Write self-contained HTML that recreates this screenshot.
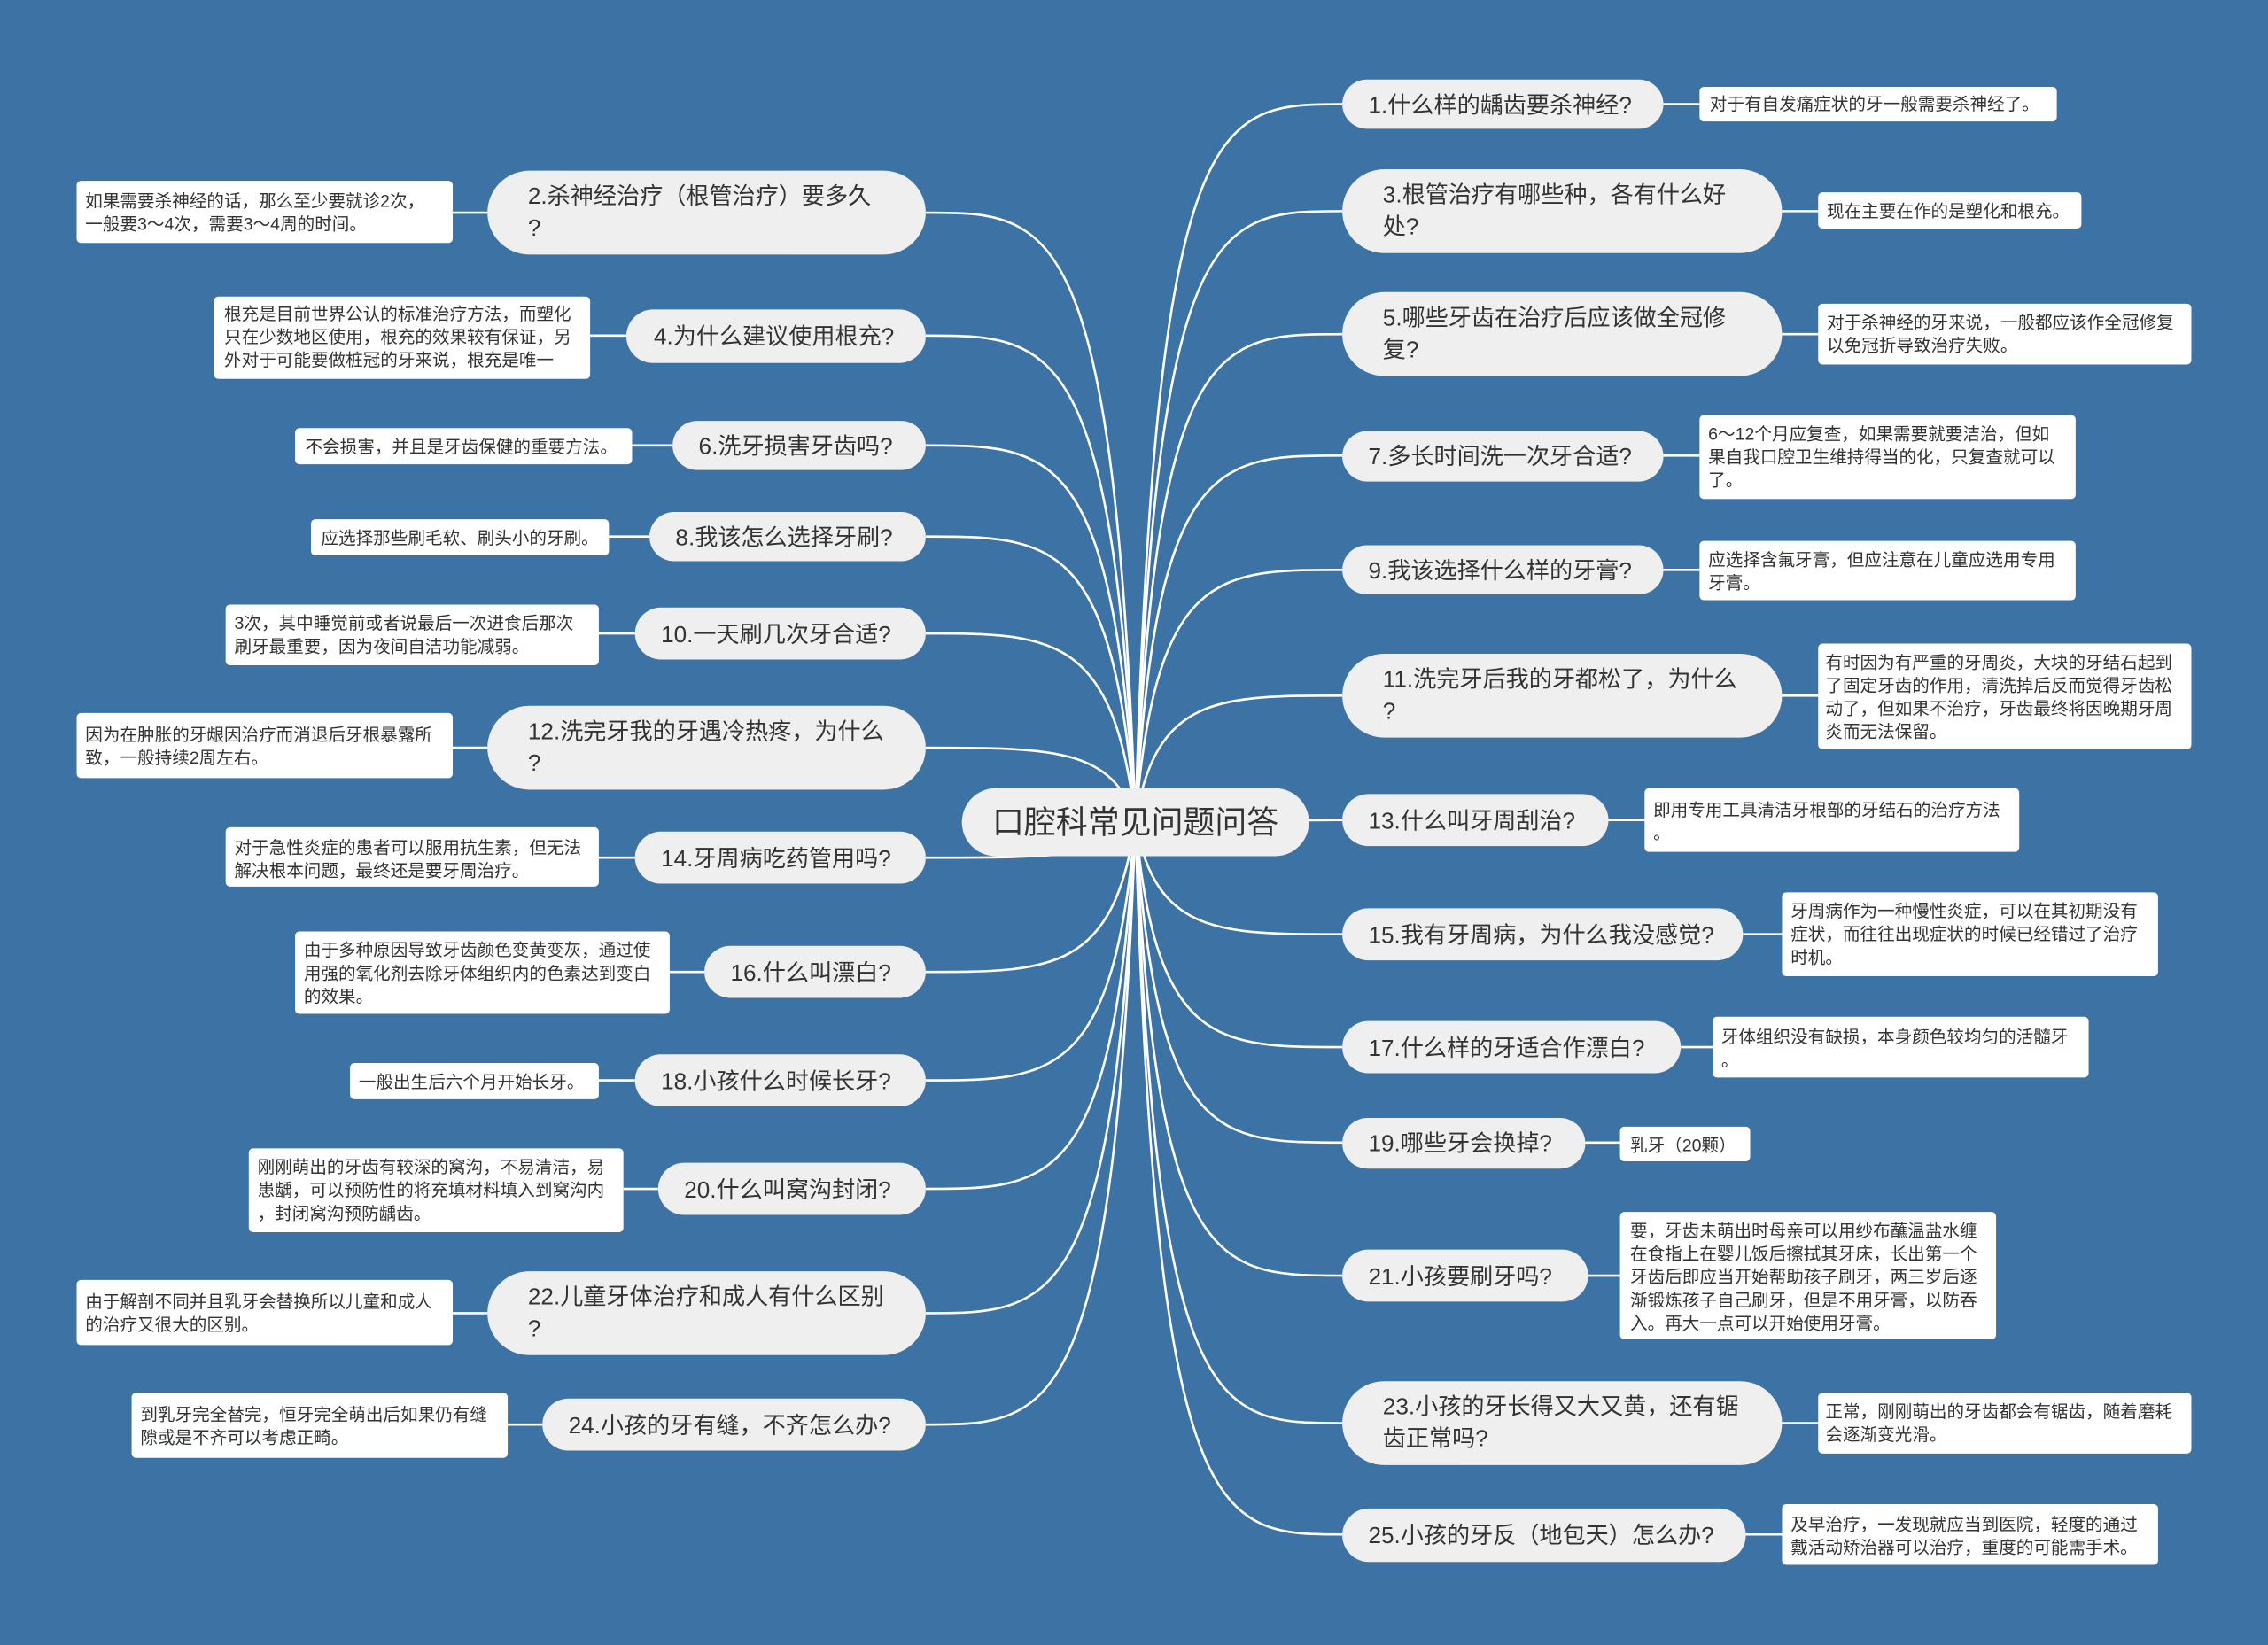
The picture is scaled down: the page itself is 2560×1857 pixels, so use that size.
<!DOCTYPE html>
<html><head><meta charset="utf-8"><style>
html,body{margin:0;padding:0;background:#3d72a4;}
svg{display:block;}
text{font-family:"Liberation Sans","Noto Sans CJK SC",sans-serif;fill:#333;}
.q{font-size:16px;}
.l{font-size:12px;}
.qb{fill:#efefef;}
.lb{fill:#fff;}
.c{fill:none;stroke:#fff;stroke-width:1.6;}
</style></head><body>
<svg width="2560" height="1857" viewBox="0 0 1568 1137.4" xmlns="http://www.w3.org/2000/svg">
<rect x="0" y="0" width="1568" height="1138" fill="#3d72a4"/>
<g class="c">
<path d="M785,568 C799,72 842,72 928,72"/>
<path d="M785,568 C799,146 842,146 928,146"/>
<path d="M785,568 C799,231 842,231 928,231"/>
<path d="M785,568 C799,315 842,315 928,315"/>
<path d="M785,568 C799,394 842,394 928,394"/>
<path d="M785,568 C799,481 842,481 928,481"/>
<path d="M785,568 L928,567"/>
<path d="M785,568 C799,646 842,646 928,646"/>
<path d="M785,568 C799,724 842,724 928,724"/>
<path d="M785,568 C799,790 842,790 928,790"/>
<path d="M785,568 C799,882 842,882 928,882"/>
<path d="M785,568 C799,984 842,984 928,984"/>
<path d="M785,568 C799,1061 842,1061 928,1061"/>
<path d="M785,568 C770,147 727,147 640,147"/>
<path d="M785,568 C770,232 727,232 640,232"/>
<path d="M785,568 C770,308 727,308 640,308"/>
<path d="M785,568 C770,371 727,371 640,371"/>
<path d="M785,568 C770,438 727,438 640,438"/>
<path d="M785,568 C770,517 727,517 640,517"/>
<path d="M785,568 C770,593 727,593 640,593"/>
<path d="M785,568 C770,672 727,672 640,672"/>
<path d="M785,568 C770,747 727,747 640,747"/>
<path d="M785,568 C770,822 727,822 640,822"/>
<path d="M785,568 C770,908 727,908 640,908"/>
<path d="M785,568 C770,985 727,985 640,985"/>
<!-- leaf connectors right -->
<path d="M1150,72 L1175,72"/><path d="M1232,146 L1257,146"/><path d="M1232,231 L1257,231"/>
<path d="M1150,315 L1175,315"/><path d="M1150,394 L1175,394"/><path d="M1232,481 L1257,481"/>
<path d="M1112,567 L1137,567"/><path d="M1205,646 L1232,646"/><path d="M1162,724 L1184,724"/>
<path d="M1096,790 L1120,790"/><path d="M1098,882 L1120,882"/><path d="M1232,984 L1257,984"/>
<path d="M1207,1061 L1232,1061"/>
<!-- leaf connectors left -->
<path d="M313,147 L337,147"/><path d="M408,232 L433,232"/><path d="M437,308 L465,308"/>
<path d="M421,371 L449,371"/><path d="M414,438 L439,438"/><path d="M313,517 L337,517"/>
<path d="M414,593 L439,593"/><path d="M463,672 L487,672"/><path d="M414,747 L439,747"/>
<path d="M431,822 L455,822"/><path d="M313,908 L337,908"/><path d="M351,985 L375,985"/>
</g>

<!-- center -->
<rect class="qb" x="665" y="545" width="240" height="47" rx="23.5"/>
<text x="785" y="576" text-anchor="middle" style="font-size:22px">口腔科常见问题问答</text>

<!-- right questions -->
<rect class="qb" x="928" y="55" width="222" height="34" rx="17"/><text class="q" x="946" y="78">1.什么样的龋齿要杀神经?</text>
<rect class="qb" x="928" y="117" width="304" height="58" rx="29"/><text class="q" x="956" y="140">3.根管治疗有哪些种，各有什么好</text><text class="q" x="956" y="162">处?</text>
<rect class="qb" x="928" y="202" width="304" height="58" rx="29"/><text class="q" x="956" y="225">5.哪些牙齿在治疗后应该做全冠修</text><text class="q" x="956" y="247">复?</text>
<rect class="qb" x="928" y="298" width="222" height="35" rx="17.5"/><text class="q" x="946" y="321">7.多长时间洗一次牙合适?</text>
<rect class="qb" x="928" y="377" width="222" height="34" rx="17"/><text class="q" x="946" y="400">9.我该选择什么样的牙膏?</text>
<rect class="qb" x="928" y="452" width="304" height="58" rx="29"/><text class="q" x="956" y="475">11.洗完牙后我的牙都松了，为什么</text><text class="q" x="956" y="497">?</text>
<rect class="qb" x="928" y="549" width="184" height="36" rx="18"/><text class="q" x="946" y="573">13.什么叫牙周刮治?</text>
<rect class="qb" x="928" y="628" width="277" height="36" rx="18"/><text class="q" x="946" y="652">15.我有牙周病，为什么我没感觉?</text>
<rect class="qb" x="928" y="706" width="234" height="36" rx="18"/><text class="q" x="946" y="730">17.什么样的牙适合作漂白?</text>
<rect class="qb" x="928" y="773" width="168" height="35" rx="17.5"/><text class="q" x="946" y="796">19.哪些牙会换掉?</text>
<rect class="qb" x="928" y="864" width="170" height="36" rx="18"/><text class="q" x="946" y="888">21.小孩要刷牙吗?</text>
<rect class="qb" x="928" y="955" width="304" height="58" rx="29"/><text class="q" x="956" y="978">23.小孩的牙长得又大又黄，还有锯</text><text class="q" x="956" y="1000">齿正常吗?</text>
<rect class="qb" x="928" y="1043" width="279" height="37" rx="18.5"/><text class="q" x="946" y="1067">25.小孩的牙反（地包天）怎么办?</text>

<!-- right leaves -->
<rect class="lb" x="1175" y="60" width="247" height="24" rx="3"/><text class="l" x="1182" y="76">对于有自发痛症状的牙一般需要杀神经了。</text>
<rect class="lb" x="1257" y="133" width="182" height="25" rx="3"/><text class="l" x="1263" y="150">现在主要在作的是塑化和根充。</text>
<rect class="lb" x="1257" y="210" width="258" height="42" rx="3"/><text class="l" x="1263" y="227">对于杀神经的牙来说，一般都应该作全冠修复</text><text class="l" x="1263" y="243">以免冠折导致治疗失败。</text>
<rect class="lb" x="1175" y="287" width="260" height="58" rx="3"/><text class="l" x="1181" y="304">6～12个月应复查，如果需要就要洁治，但如</text><text class="l" x="1181" y="320">果自我口腔卫生维持得当的化，只复查就可以</text><text class="l" x="1181" y="336">了。</text>
<rect class="lb" x="1175" y="374" width="260" height="41" rx="3"/><text class="l" x="1181" y="391">应选择含氟牙膏，但应注意在儿童应选用专用</text><text class="l" x="1181" y="407">牙膏。</text>
<rect class="lb" x="1257" y="445" width="258" height="73" rx="3"/><text class="l" x="1262" y="462">有时因为有严重的牙周炎，大块的牙结石起到</text><text class="l" x="1262" y="478">了固定牙齿的作用，清洗掉后反而觉得牙齿松</text><text class="l" x="1262" y="494">动了，但如果不治疗，牙齿最终将因晚期牙周</text><text class="l" x="1262" y="510">炎而无法保留。</text>
<rect class="lb" x="1137" y="545" width="259" height="44" rx="3"/><text class="l" x="1143" y="564">即用专用工具清洁牙根部的牙结石的治疗方法</text><text class="l" x="1143" y="580">。</text>
<rect class="lb" x="1232" y="617" width="260" height="58" rx="3"/><text class="l" x="1238" y="634">牙周病作为一种慢性炎症，可以在其初期没有</text><text class="l" x="1238" y="650">症状，而往往出现症状的时候已经错过了治疗</text><text class="l" x="1238" y="666">时机。</text>
<rect class="lb" x="1184" y="703" width="260" height="42" rx="3"/><text class="l" x="1190" y="721">牙体组织没有缺损，本身颜色较均匀的活髓牙</text><text class="l" x="1190" y="737">。</text>
<rect class="lb" x="1120" y="779" width="90" height="24" rx="3"/><text class="l" x="1127" y="796">乳牙（20颗）</text>
<rect class="lb" x="1120" y="838" width="260" height="88" rx="3"/><text class="l" x="1127" y="855">要，牙齿未萌出时母亲可以用纱布蘸温盐水缠</text><text class="l" x="1127" y="871">在食指上在婴儿饭后擦拭其牙床，长出第一个</text><text class="l" x="1127" y="887">牙齿后即应当开始帮助孩子刷牙，两三岁后逐</text><text class="l" x="1127" y="903">渐锻炼孩子自己刷牙，但是不用牙膏，以防吞</text><text class="l" x="1127" y="919">入。再大一点可以开始使用牙膏。</text>
<rect class="lb" x="1257" y="963" width="258" height="42" rx="3"/><text class="l" x="1262" y="980">正常，刚刚萌出的牙齿都会有锯齿，随着磨耗</text><text class="l" x="1262" y="996">会逐渐变光滑。</text>
<rect class="lb" x="1232" y="1040" width="260" height="42" rx="3"/><text class="l" x="1238" y="1058">及早治疗，一发现就应当到医院，轻度的通过</text><text class="l" x="1238" y="1074">戴活动矫治器可以治疗，重度的可能需手术。</text>

<!-- left questions -->
<rect class="qb" x="337" y="118" width="303" height="58" rx="29"/><text class="q" x="365" y="141">2.杀神经治疗（根管治疗）要多久</text><text class="q" x="365" y="163">?</text>
<rect class="qb" x="433" y="214" width="207" height="37" rx="18.5"/><text class="q" x="452" y="238">4.为什么建议使用根充?</text>
<rect class="qb" x="465" y="291" width="175" height="34" rx="17"/><text class="q" x="483" y="314">6.洗牙损害牙齿吗?</text>
<rect class="qb" x="449" y="354" width="191" height="34" rx="17"/><text class="q" x="467" y="377">8.我该怎么选择牙刷?</text>
<rect class="qb" x="439" y="420" width="201" height="36" rx="18"/><text class="q" x="457" y="444">10.一天刷几次牙合适?</text>
<rect class="qb" x="337" y="488" width="303" height="58" rx="29"/><text class="q" x="365" y="511">12.洗完牙我的牙遇冷热疼，为什么</text><text class="q" x="365" y="533">?</text>
<rect class="qb" x="439" y="575" width="201" height="36" rx="18"/><text class="q" x="457" y="599">14.牙周病吃药管用吗?</text>
<rect class="qb" x="487" y="654" width="153" height="36" rx="18"/><text class="q" x="505" y="678">16.什么叫漂白?</text>
<rect class="qb" x="439" y="729" width="201" height="36" rx="18"/><text class="q" x="457" y="753">18.小孩什么时候长牙?</text>
<rect class="qb" x="455" y="804" width="185" height="36" rx="18"/><text class="q" x="473" y="828">20.什么叫窝沟封闭?</text>
<rect class="qb" x="337" y="879" width="303" height="58" rx="29"/><text class="q" x="365" y="902">22.儿童牙体治疗和成人有什么区别</text><text class="q" x="365" y="924">?</text>
<rect class="qb" x="375" y="967" width="265" height="36" rx="18"/><text class="q" x="393" y="991">24.小孩的牙有缝，不齐怎么办?</text>

<!-- left leaves -->
<rect class="lb" x="53" y="125" width="260" height="43" rx="3"/><text class="l" x="59" y="143">如果需要杀神经的话，那么至少要就诊2次，</text><text class="l" x="59" y="159">一般要3～4次，需要3～4周的时间。</text>
<rect class="lb" x="148" y="205" width="260" height="57" rx="3"/><text class="l" x="155" y="221">根充是目前世界公认的标准治疗方法，而塑化</text><text class="l" x="155" y="237">只在少数地区使用，根充的效果较有保证，另</text><text class="l" x="155" y="253">外对于可能要做桩冠的牙来说，根充是唯一</text>
<rect class="lb" x="204" y="296" width="233" height="25" rx="3"/><text class="l" x="211" y="313">不会损害，并且是牙齿保健的重要方法。</text>
<rect class="lb" x="215" y="359" width="206" height="25" rx="3"/><text class="l" x="222" y="376">应选择那些刷毛软、刷头小的牙刷。</text>
<rect class="lb" x="156" y="418" width="258" height="42" rx="3"/><text class="l" x="162" y="435">3次，其中睡觉前或者说最后一次进食后那次</text><text class="l" x="162" y="451">刷牙最重要，因为夜间自洁功能减弱。</text>
<rect class="lb" x="53" y="493" width="260" height="45" rx="3"/><text class="l" x="59" y="512">因为在肿胀的牙龈因治疗而消退后牙根暴露所</text><text class="l" x="59" y="528">致，一般持续2周左右。</text>
<rect class="lb" x="156" y="572" width="258" height="41" rx="3"/><text class="l" x="162" y="590">对于急性炎症的患者可以服用抗生素，但无法</text><text class="l" x="162" y="606">解决根本问题，最终还是要牙周治疗。</text>
<rect class="lb" x="204" y="644" width="259" height="57" rx="3"/><text class="l" x="210" y="661">由于多种原因导致牙齿颜色变黄变灰，通过使</text><text class="l" x="210" y="677">用强的氧化剂去除牙体组织内的色素达到变白</text><text class="l" x="210" y="693">的效果。</text>
<rect class="lb" x="242" y="735" width="172" height="25" rx="3"/><text class="l" x="248" y="752">一般出生后六个月开始长牙。</text>
<rect class="lb" x="172" y="794" width="259" height="58" rx="3"/><text class="l" x="178" y="811">刚刚萌出的牙齿有较深的窝沟，不易清洁，易</text><text class="l" x="178" y="827">患龋，可以预防性的将充填材料填入到窝沟内</text><text class="l" x="178" y="843">，封闭窝沟预防龋齿。</text>
<rect class="lb" x="53" y="885" width="260" height="45" rx="3"/><text class="l" x="59" y="904">由于解剖不同并且乳牙会替换所以儿童和成人</text><text class="l" x="59" y="920">的治疗又很大的区别。</text>
<rect class="lb" x="91" y="963" width="260" height="45" rx="3"/><text class="l" x="97" y="982">到乳牙完全替完，恒牙完全萌出后如果仍有缝</text><text class="l" x="97" y="998">隙或是不齐可以考虑正畸。</text>
</svg>
</body></html>
